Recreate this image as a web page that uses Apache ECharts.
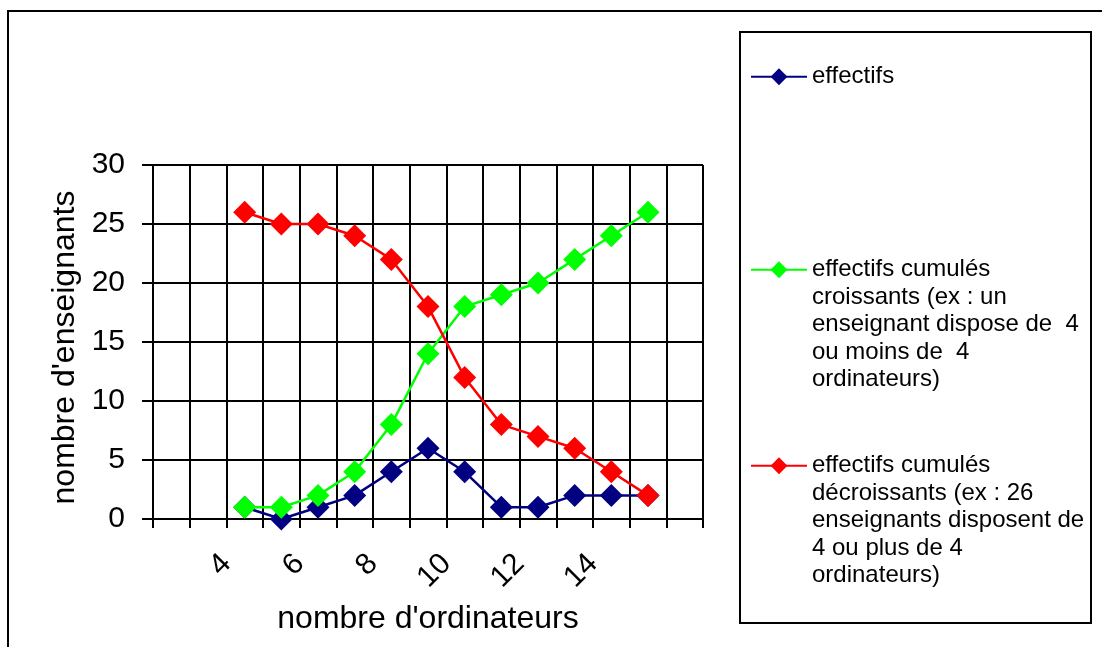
<!DOCTYPE html>
<html>
<head>
<meta charset="utf-8">
<script src="https://cdn.jsdelivr.net/npm/echarts@6/dist/echarts.min.js"></script>
<style>
  html, body { margin: 0; padding: 0; background: #ffffff; }
  #chart { width: 1102px; height: 647px; }
</style>
</head>
<body>
<div id="chart"></div>
<script>
// Categories (number of computers); first two and last are empty slots of the plot
const categories = ['2', '3', '4', '5', '6', '7', '8', '9', '10', '11', '12', '13', '14', '15', '16'];
// Tick labels shown at category boundaries
const xTickLabels = ['', '', '4', '', '6', '', '8', '', '10', '', '12', '', '14', '', '', ''];
const yTicks = { min: 0, max: 30, interval: 5 };

const effectifs =    [null, null, 1, 0, 1, 2, 4, 6, 4, 1, 1, 2, 2, 2, null];
const croissants =   [null, null, 1, 1, 2, 4, 8, 14, 18, 19, 20, 22, 24, 26, null];
const decroissants = [null, null, 26, 25, 25, 24, 22, 18, 12, 8, 7, 6, 4, 2, null];

const nameEff = 'effectifs';
const nameCro = 'effectifs cumulés\ncroissants (ex : un\nenseignant dispose de  4\nou moins de  4\nordinateurs)';
const nameDec = 'effectifs cumulés\ndécroissants (ex : 26\nenseignants disposent de\n4 ou plus de 4\nordinateurs)';

const FONT = 'Liberation Sans, Arial, sans-serif';
const chart = echarts.init(document.getElementById('chart'), null, { renderer: 'canvas' });

function legendFor(name, top) {
  const nLines = name.split('\n').length;
  return {
    left: 750,
    top: top,
    padding: 0,
    orient: 'vertical',
    selectedMode: false,
    itemWidth: 56,
    itemHeight: 21,
    data: [name],
    // blank lines above so that the icon sits on the first line of the text
    formatter: function (n) { return '\n'.repeat(nLines - 1) + n; },
    textStyle: { fontFamily: FONT, fontSize: 24, color: '#000', lineHeight: 27.5 }
  };
}

const option = {
  animation: false,
  backgroundColor: '#ffffff',
  textStyle: { fontFamily: FONT },
  graphic: [
    { type: 'rect', shape: { x: 8, y: 11, width: 1200, height: 700 },
      style: { fill: 'none', stroke: '#000', lineWidth: 2 }, silent: true, z: 0 },
    { type: 'rect', shape: { x: 740, y: 32, width: 351, height: 591 },
      style: { fill: 'none', stroke: '#000', lineWidth: 2 }, silent: true, z: 0 }
  ],
  legend: [
    legendFor(nameEff, 63),
    legendFor(nameCro, 146),
    legendFor(nameDec, 342)
  ],
  grid: { left: 153, right: 399, top: 165, bottom: 128, containLabel: false },
  xAxis: [
    {
      type: 'category',
      position: 'bottom',
      data: categories,
      boundaryGap: true,
      name: "nombre d'ordinateurs",
      nameLocation: 'middle',
      nameGap: 84,
      nameTextStyle: { fontFamily: FONT, fontSize: 32, color: '#000' },
      axisLine: { show: true, lineStyle: { color: '#000', width: 2 } },
      axisTick: { show: true, interval: 0, length: 9, lineStyle: { color: '#000', width: 2 } },
      axisLabel: { show: false },
      splitLine: { show: true, interval: 0, lineStyle: { color: '#000', width: 2 } }
    },
    {
      type: 'category',
      position: 'bottom',
      data: xTickLabels,
      boundaryGap: false,
      axisLine: { show: false },
      axisTick: { show: false },
      splitLine: { show: false },
      axisLabel: { show: true, interval: 0, rotate: 45, margin: 40,
        fontFamily: FONT, fontSize: 30, color: '#000' }
    }
  ],
  yAxis: {
    type: 'value',
    min: yTicks.min,
    max: yTicks.max,
    interval: yTicks.interval,
    name: "nombre d'enseignants",
    nameLocation: 'middle',
    nameGap: 72,
    nameTextStyle: { fontFamily: FONT, fontSize: 32, color: '#000', padding: [0, 11, 0, 0] },
    axisLine: { show: true, lineStyle: { color: '#000', width: 2 } },
    axisTick: { show: true, length: 11, lineStyle: { color: '#000', width: 2 } },
    axisLabel: { margin: 28, fontFamily: FONT, fontSize: 30, color: '#000' },
    splitLine: { show: true, lineStyle: { color: '#000', width: 2 } }
  },
  series: [
    {
      name: nameEff, type: 'line', xAxisIndex: 0, data: effectifs,
      symbol: 'diamond', symbolSize: 23,
      lineStyle: { color: '#000080', width: 2.5 },
      itemStyle: { color: '#000080' }, z: 3
    },
    {
      name: nameCro, type: 'line', xAxisIndex: 0, data: croissants,
      symbol: 'diamond', symbolSize: 23,
      lineStyle: { color: '#00ff00', width: 2.5 },
      itemStyle: { color: '#00ff00' }, z: 4
    },
    {
      name: nameDec, type: 'line', xAxisIndex: 0, data: decroissants,
      symbol: 'diamond', symbolSize: 23,
      lineStyle: { color: '#ff0000', width: 2.5 },
      itemStyle: { color: '#ff0000' }, z: 5
    }
  ]
};
chart.setOption(option);
</script>
</body>
</html>
